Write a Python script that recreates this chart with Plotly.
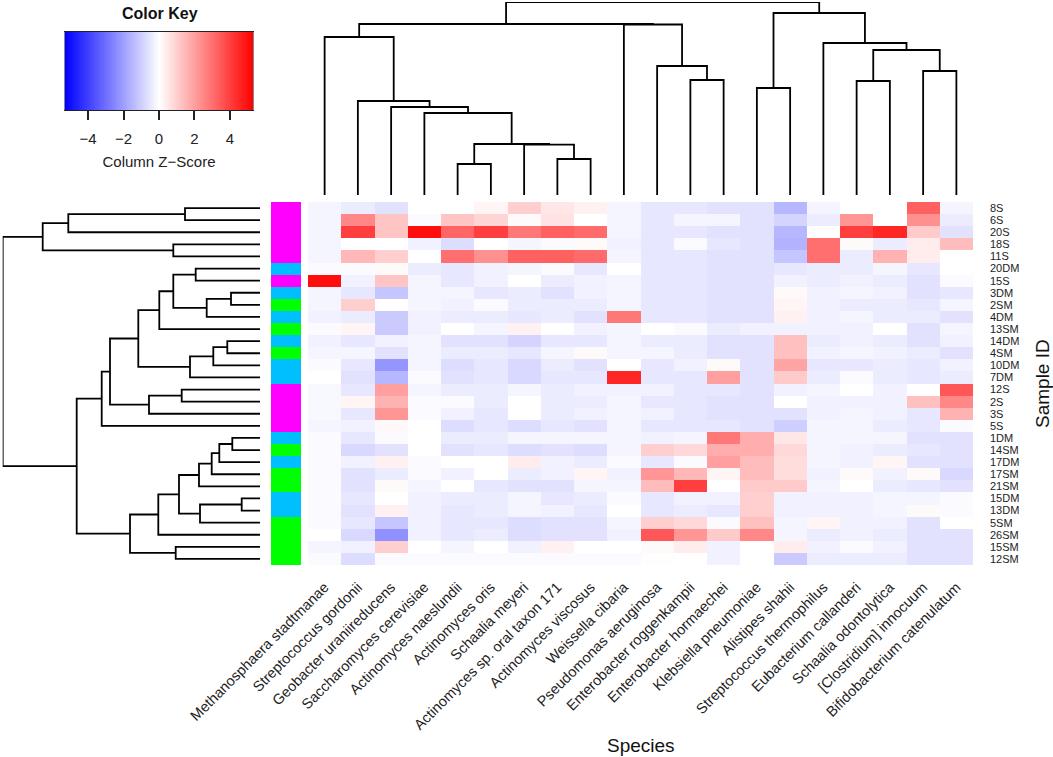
import numpy as np
import plotly.graph_objects as go

W, H = 1053, 757

species = [
    "Methanosphaera stadtmanae", "Streptococcus gordonii", "Geobacter uraniireducens",
    "Saccharomyces cerevisiae", "Actinomyces naeslundii", "Actinomyces oris",
    "Schaalia meyeri", "Actinomyces sp. oral taxon 171", "Actinomyces viscosus",
    "Weissella cibaria", "Pseudomonas aeruginosa", "Enterobacter roggenkampii",
    "Enterobacter hormaechei", "Klebsiella pneumoniae", "Alistipes shahii",
    "Streptococcus thermophilus", "Eubacterium callanderi", "Schaalia odontolytica",
    "[Clostridium] innocuum", "Bifidobacterium catenulatum",
]

samples = [
    "8S", "6S", "20S", "18S", "11S", "20DM", "15S", "3DM", "2SM", "4DM",
    "13SM", "14DM", "4SM", "10DM", "7DM", "12S", "2S", "3S", "5S", "1DM",
    "14SM", "17DM", "17SM", "21SM", "15DM", "13DM", "5SM", "26SM", "15SM", "12SM",
]

# column z-scores, one list per sample (row), columns in species order
zscores = [
    [-0.2, -0.4, -0.6, 0.0, 0.0, 0.2, 1.0, 0.5, 0.3, -0.2, -0.5, -0.5, -0.6, -0.6, -1.5, -0.2, 0.0, 0.0, 3.3, -0.2],
    [-0.2, 2.5, 1.2, -0.1, 1.2, 0.9, 0.1, 0.6, 0.0, -0.2, -0.5, -0.2, -0.2, -0.6, -0.9, -0.4, 2.2, 0.0, 2.3, -0.4],
    [-0.2, 4.0, 1.2, 5.0, 3.2, 4.0, 2.8, 3.3, 3.1, -0.2, -0.5, -0.5, -0.6, -0.6, -1.5, 0.0, 4.0, 4.5, 1.1, -0.6],
    [-0.2, 0.0, 0.0, -0.3, -0.7, 0.0, -0.2, -0.1, 0.1, -0.3, -0.5, -0.1, -0.5, -0.6, -1.6, 3.0, 0.1, -0.4, 0.4, 1.4],
    [-0.2, 1.5, 1.0, 0.0, 3.0, 2.3, 3.3, 3.3, 3.1, -0.2, -0.5, -0.5, -0.6, -0.6, -1.2, 3.0, -0.4, 1.6, 0.4, 0.0],
    [-0.1, -0.1, 0.1, -0.4, -0.5, -0.3, -0.2, -0.1, -0.5, 0.0, -0.5, -0.5, -0.6, -0.6, -0.5, -0.4, -0.4, -0.2, -0.5, 0.0],
    [5.0, -0.3, 1.2, -0.2, -0.5, -0.3, 0.0, -0.4, -0.3, -0.2, -0.5, -0.5, -0.6, -0.6, -0.3, -0.4, -0.3, -0.4, -0.6, -0.1],
    [-0.2, -0.5, -1.2, -0.2, -0.2, -0.5, -0.4, -0.6, -0.3, -0.2, -0.5, -0.5, -0.6, -0.6, 0.1, -0.3, -0.2, -0.3, -0.6, -0.5],
    [-0.2, 1.0, 0.0, -0.2, -0.3, -0.1, -0.4, -0.4, -0.4, -0.2, -0.5, -0.5, -0.6, -0.6, 0.2, -0.3, -0.4, -0.4, -0.5, -0.2],
    [-0.3, -0.4, -1.1, -0.3, -0.4, -0.4, -0.5, -0.4, -0.6, 2.8, -0.5, -0.5, -0.6, -0.6, 0.3, -0.3, -0.2, -0.4, -0.4, -0.6],
    [-0.1, 0.2, -1.1, -0.3, 0.0, -0.2, 0.3, 0.0, -0.3, -0.2, 0.0, -0.1, -0.4, -0.3, -0.3, -0.3, -0.3, 0.0, -0.6, -0.2],
    [-0.3, -0.5, -0.3, -0.2, -0.6, -0.6, -0.9, -0.5, -0.5, -0.2, -0.4, -0.4, -0.6, -0.6, 1.3, -0.4, -0.3, -0.4, -0.6, -0.3],
    [-0.2, -0.2, -0.6, -0.2, -0.4, -0.4, -0.5, -0.2, 0.1, -0.2, -0.2, -0.4, -0.6, -0.6, 1.3, -0.3, -0.2, -0.3, -0.4, -0.6],
    [-0.1, -0.5, -2.2, -0.2, -0.7, -0.5, -0.8, -0.4, -0.6, 0.0, -0.5, -0.3, 0.1, -0.6, 1.9, -0.5, -0.5, -0.4, -0.5, -0.3],
    [0.0, -0.6, -1.5, -0.1, -0.6, -0.5, -0.8, -0.5, -0.5, 4.5, -0.5, -0.5, 2.0, -0.6, 1.1, -0.4, -0.1, -0.4, -0.5, -0.4],
    [-0.15, -0.5, 2.0, -0.2, -0.4, -0.4, -0.2, -0.4, -0.3, -0.3, -0.3, -0.5, -0.5, -0.6, -0.3, -0.2, 0.0, -0.3, 0.0, 3.5],
    [-0.15, 0.2, 1.6, -0.1, -0.1, -0.4, 0.0, -0.4, -0.4, -0.2, -0.5, -0.5, -0.6, -0.6, 0.0, -0.3, -0.3, -0.3, 1.3, 2.5],
    [-0.15, -0.5, 2.2, -0.1, -0.3, -0.5, 0.0, -0.4, -0.3, -0.2, -0.3, -0.5, -0.6, -0.6, -0.6, -0.3, -0.2, -0.3, -0.5, 1.6],
    [-0.2, -0.3, 0.15, 0.0, -0.7, -0.5, -0.7, -0.5, -0.6, -0.2, -0.5, -0.5, -0.5, -0.6, -1.0, -0.2, -0.2, -0.4, -0.5, -0.1],
    [-0.1, -0.5, -0.1, 0.0, -0.4, -0.4, -0.2, -0.2, -0.2, -0.2, -0.3, -0.2, 2.8, 1.7, 0.5, -0.2, -0.2, -0.2, -0.6, -0.6],
    [-0.1, -0.8, -0.6, 0.0, -0.6, -0.5, -0.7, -0.6, -0.7, -0.2, 1.0, 0.8, 1.7, 1.7, 0.8, -0.2, -0.3, -0.4, -0.5, -0.6],
    [-0.1, -0.3, 0.3, -0.1, 0.0, 0.0, 0.4, -0.3, -0.4, -0.1, -0.5, -0.1, 2.0, 1.4, 0.7, -0.2, -0.3, 0.2, -0.6, -0.6],
    [-0.1, -0.6, -0.4, -0.1, -0.3, 0.0, -0.4, -0.3, 0.2, -0.3, 2.2, 1.5, 0.2, 1.4, 0.7, -0.3, 0.1, -0.3, 0.1, -0.8],
    [-0.1, -0.6, 0.1, -0.2, 0.0, -0.5, -0.6, -0.6, -0.2, -0.2, 1.4, 4.0, 0.0, 1.1, 1.1, -0.2, 0.0, -0.4, -0.5, -0.6],
    [-0.1, -0.5, 0.0, -0.3, -0.4, -0.4, -0.2, -0.5, -0.4, -0.1, -0.5, -0.3, -0.3, 1.0, -0.3, -0.3, -0.3, -0.2, -0.2, -0.1],
    [-0.1, -0.6, 0.3, -0.3, -0.5, -0.4, -0.2, -0.3, -0.5, 0.0, -0.5, -0.4, -0.5, 1.0, -0.3, -0.3, -0.3, -0.2, 0.1, -0.1],
    [-0.1, -0.5, -1.2, -0.3, -0.5, -0.5, -0.7, -0.6, -0.6, -0.2, 1.0, 0.8, -0.1, 1.3, -0.2, 0.2, -0.3, -0.3, -0.6, 0.0],
    [0.0, -0.8, -2.3, -0.3, -0.5, -0.4, -0.7, -0.6, -0.6, -0.3, 3.5, 2.2, 1.1, 2.5, -0.2, -0.4, -0.3, -0.4, -0.6, -0.6],
    [-0.2, -0.3, 1.0, 0.0, -0.2, 0.0, -0.3, 0.3, 0.0, 0.0, 0.1, 0.4, -0.3, 0.0, 0.4, -0.3, -0.1, -0.3, -0.6, -0.6],
    [-0.1, -0.7, -0.1, -0.1, -0.1, -0.1, -0.1, -0.1, -0.1, -0.1, 0.05, 0.0, -0.3, 0.0, -1.1, -0.4, -0.4, -0.4, -0.6, -0.6],
]

# row dendrogram: merges (leaves 0..29 in display order, merge k -> 30+k) and heights
row_merges = [(0, 1), (30, 2), (3, 4), (31, 32), (5, 6), (7, 8), (35, 9), (34, 36), (37, 10),
              (11, 12), (39, 13), (40, 14), (38, 41), (15, 16), (43, 17), (42, 44), (45, 18),
              (19, 20), (47, 21), (48, 22), (49, 23), (24, 25), (51, 26), (50, 52), (53, 27),
              (28, 29), (54, 55), (46, 56), (33, 57)]
row_heights = [75, 191.7, 86.7, 217.3, 64.3, 29, 53.3, 86.7, 100.7, 32.7, 46.7, 70, 121.7,
               78.3, 111, 150, 158.3, 27.7, 40.7, 48.3, 61, 18.3, 60, 81, 101.7, 84.3, 130,
               183.3, 257.3]

# column dendrogram: merges (leaves 0..19, merge k -> 20+k) and heights
col_merges = [(4, 5), (7, 8), (6, 21), (20, 22), (3, 23), (2, 24), (1, 25), (0, 26),
              (11, 12), (10, 28), (9, 29), (27, 30), (13, 14), (16, 17), (18, 19), (33, 34),
              (15, 35), (32, 36), (31, 37)]
col_heights = [31, 36, 50.3, 51, 82, 88, 94, 158, 115, 129, 170.5, 171, 107, 114, 124, 145,
               152, 182, 193]

group_colors = {"S": "#FF00FF", "DM": "#00BFFF", "SM": "#00FF00"}


def dendro(merges, heights, n):
    pos = list(range(n))
    hgt = [0.0] * n
    xs, ys = [], []
    for (a, b), h in zip(merges, heights):
        pa, pb = pos[a], pos[b]
        xs += [pa, pa, pb, pb, None]
        ys += [hgt[a], h, h, hgt[b], None]
        pos.append((pa + pb) / 2)
        hgt.append(h)
    return xs, ys


def px(x):
    return x / W


def py(y):
    return 1 - y / H


ZMAX = 5.3
cscale = [[0, "rgb(0,0,255)"], [0.5, "rgb(255,255,255)"], [1, "rgb(255,0,0)"]]
FONT = "Liberation Sans, Arial, sans-serif"

nrow, ncol = len(samples), len(species)
fig = go.Figure()

# main heatmap
fig.add_trace(go.Heatmap(
    z=zscores, x=list(range(ncol)), y=list(range(nrow)),
    colorscale=cscale, zmin=-ZMAX, zmax=ZMAX, showscale=False,
    xaxis="x", yaxis="y"))

# side colour bar
def grp(s):
    return "SM" if s.endswith("SM") else ("DM" if s.endswith("DM") else "S")

gkeys = ["S", "DM", "SM"]
gcode = [[gkeys.index(grp(s))] for s in samples]
gscale = [[0, group_colors["S"]], [1 / 3, group_colors["S"]],
          [1 / 3, group_colors["DM"]], [2 / 3, group_colors["DM"]],
          [2 / 3, group_colors["SM"]], [1, group_colors["SM"]]]
fig.add_trace(go.Heatmap(z=gcode, x=[0], y=list(range(nrow)), colorscale=gscale,
                         zmin=-0.5, zmax=2.5, showscale=False, xaxis="x2", yaxis="y2"))

# row dendrogram
rx, ry = dendro(row_merges, row_heights, nrow)
fig.add_trace(go.Scatter(x=ry, y=rx, mode="lines", line=dict(color="black", width=1.8),
                         cliponaxis=False, showlegend=False, xaxis="x3", yaxis="y3"))

# column dendrogram
cx, cy = dendro(col_merges, col_heights, ncol)
fig.add_trace(go.Scatter(x=cx, y=cy, mode="lines", line=dict(color="black", width=1.8),
                         cliponaxis=False, showlegend=False, xaxis="x4", yaxis="y4"))

# colour key
kx = np.linspace(-ZMAX, ZMAX, 301)
fig.add_trace(go.Heatmap(z=[kx], x=kx, y=[0], colorscale=cscale, zmin=-ZMAX, zmax=ZMAX,
                         showscale=False, xaxis="x5", yaxis="y5"))

hx = [px(308), px(973)]
hy = [py(565), py(202)]
hidden = dict(showgrid=False, zeroline=False, showticklabels=False, ticks="", showline=False)

fig.update_layout(
    width=W, height=H, margin=dict(l=0, r=0, t=0, b=0),
    paper_bgcolor="white", plot_bgcolor="white", showlegend=False,
    font=dict(family=FONT, color="black"),
    xaxis=dict(domain=hx, range=[-0.5, ncol - 0.5], tickvals=list(range(ncol)),
               ticktext=species, tickangle=-45, ticks="", showgrid=False, zeroline=False,
               tickfont=dict(size=14.5, family=FONT, color="#222"), anchor="y",
               ticklabelstandoff=10, automargin=False),
    yaxis=dict(domain=hy, range=[nrow - 0.5, -0.5], tickvals=list(range(nrow)),
               ticktext=samples, side="right", ticks="", showgrid=False, zeroline=False,
               tickfont=dict(size=11, family="Liberation Sans Narrow, Arial Narrow, Liberation Sans, Arial",
                             color="#222"),
               anchor="x", ticklabelstandoff=16, automargin=False),
    xaxis2=dict(domain=[px(271), px(301)], range=[-0.5, 0.5], anchor="y2", **hidden),
    yaxis2=dict(domain=hy, range=[nrow - 0.5, -0.5], anchor="x2", **hidden),
    xaxis3=dict(domain=[px(2.7), px(260)], range=[row_heights[-1], 0], anchor="y3", **hidden),
    yaxis3=dict(domain=hy, range=[nrow - 0.5, -0.5], anchor="x3", **hidden),
    xaxis4=dict(domain=hx, range=[-0.5, ncol - 0.5], anchor="y4", **hidden),
    yaxis4=dict(domain=[py(195), py(2)], range=[0, col_heights[-1]], anchor="x4", **hidden),
    xaxis5=dict(domain=[px(65), px(253)], range=[-ZMAX, ZMAX], anchor="y5",
                tickvals=[-4, -2, 0, 2, 4], ticks="outside", ticklen=9, tickwidth=2,
                tickcolor="#222", showline=True, linecolor="#222", linewidth=1, mirror=True,
                showgrid=False, zeroline=False, tickfont=dict(size=15, color="#222"),
                ticklabelstandoff=6,
                title=dict(text="Column Z\u2212Score", font=dict(size=15, color="#222"), standoff=10),
                automargin=False),
    yaxis5=dict(domain=[py(110), py(32)], range=[-0.5, 0.5], anchor="x5",
                showline=True, linecolor="#888", linewidth=1, mirror=True,
                showgrid=False, zeroline=False, showticklabels=False, ticks=""),
    annotations=[
        dict(text="<b>Color Key</b>", x=px(160), y=py(14), xref="paper", yref="paper",
             showarrow=False, font=dict(size=16, color="#111"), xanchor="center", yanchor="middle"),
        dict(text="Species", x=px(640.5), y=py(745), xref="paper", yref="paper",
             showarrow=False, font=dict(size=19, color="#111"), xanchor="center", yanchor="middle"),
        dict(text="Sample ID", x=px(1042), y=py(384), xref="paper", yref="paper", textangle=-90,
             showarrow=False, font=dict(size=19, color="#111"), xanchor="center", yanchor="middle"),
    ],
)

fig.write_html("out.html", config={"displayModeBar": False},
               post_script="document.body.style.margin='0px';")
